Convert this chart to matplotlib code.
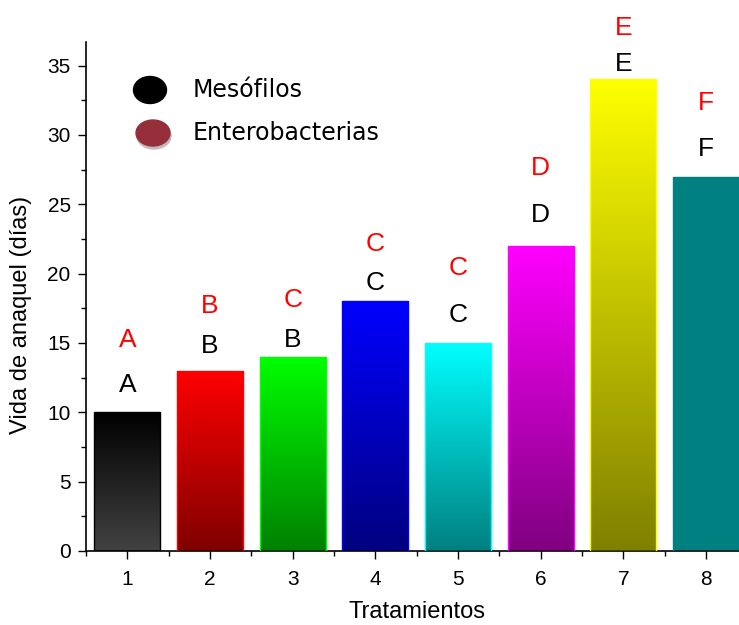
import numpy as np
import matplotlib.pyplot as plt
from matplotlib.colors import LinearSegmentedColormap
from matplotlib.patches import Ellipse

# datos
tratamientos = [1, 2, 3, 4, 5, 6, 7, 8]
vida = [10, 13, 14, 18, 15, 22, 34, 27]
letras_meso = ['A', 'B', 'B', 'C', 'C', 'D', 'E', 'F']
letras_entero = ['A', 'B', 'C', 'C', 'C', 'D', 'E', 'F']
pos_meso = [12.0, 14.8, 15.2, 19.3, 17.0, 24.2, 35.1, 29.0]
pos_entero = [15.2, 17.7, 18.1, 22.1, 20.4, 27.6, 37.7, 32.3]
color_arriba = ['#000000', '#ff0000', '#00ff00', '#0000ff', '#00ffff', '#ff00ff', '#ffff00', '#008080']
color_abajo = ['#424242', '#800000', '#008000', '#000080', '#008080', '#800080', '#808000', '#008080']
borde = ['#000000', '#ff0000', '#00ff00', '#0000ff', '#00ffff', '#ff00ff', '#ffff00', '#008080']

plt.rcParams['font.family'] = ['Liberation Sans', 'DejaVu Sans']

fig = plt.figure(figsize=(7.39, 6.25), dpi=100, facecolor='white')
ax = fig.add_axes([0.1164, 0.1184, 0.895, 0.8144])

barras = ax.bar(tratamientos, vida, width=0.8, color='none', edgecolor=borde, linewidth=1, zorder=3)

# degradado vertical dentro de cada barra
grad = np.linspace(0, 1, 256).reshape(-1, 1)
for b, c1, c2 in zip(barras, color_arriba, color_abajo):
    cmap = LinearSegmentedColormap.from_list('g', [c2, c1])
    x0, y0 = b.get_x(), b.get_y()
    im = ax.imshow(grad, cmap=cmap, origin='lower', aspect='auto',
                   extent=[x0, x0 + b.get_width(), y0, y0 + b.get_height()], zorder=2)
    im.set_clip_path(b)

for x, l1, l2, p1, p2 in zip(tratamientos, letras_meso, letras_entero, pos_meso, pos_entero):
    ax.text(x, p1, l1, ha='center', va='center', fontsize=19, color='black', clip_on=False)
    ax.text(x, p2, l2, ha='center', va='center', fontsize=19, color='red', clip_on=False)

ax.set_xlim(0.5, 8.5)
ax.set_ylim(0, 36.7)
ax.set_xticks(tratamientos)
ax.set_xticks(np.arange(0.5, 9, 1), minor=True)
ax.set_yticks(np.arange(0, 36, 5))
ax.set_yticks(np.arange(0, 36.7, 2.5), minor=True)
ax.tick_params(axis='both', which='major', labelsize=15, length=6, width=1, direction='out')
ax.tick_params(axis='x', which='major', pad=8)
ax.tick_params(axis='y', which='major', pad=5)
ax.tick_params(axis='both', which='minor', length=3.5, width=1, direction='out')
for s in ['top', 'right']:
    ax.spines[s].set_visible(False)
for s in ['left', 'bottom']:
    ax.spines[s].set_linewidth(1.2)

ax.set_xlabel('Tratamientos', fontsize=17)
ax.xaxis.set_label_coords(0.5, -0.098)
ax.set_ylabel('Vida de anaquel (días)', fontsize=17)
ax.yaxis.set_label_coords(-0.082, 0.464)

# leyenda dibujada a mano
ax_w, ax_h = 739, 625
fig.patches.append(Ellipse((150 / ax_w, 1 - 90 / ax_h), 33 / ax_w, 27 / ax_h,
                           transform=fig.transFigure, color='black', zorder=5))
fig.patches.append(Ellipse((154 / ax_w, 1 - 136 / ax_h), 34 / ax_w, 26 / ax_h,
                           transform=fig.transFigure, color='#c9b8ba', zorder=4))
fig.patches.append(Ellipse((153 / ax_w, 1 - 133 / ax_h), 34 / ax_w, 26 / ax_h,
                           transform=fig.transFigure, color='#952f3c', zorder=5))
fig.text(193 / ax_w, 1 - 90 / ax_h, 'Mesófilos', fontsize=17, va='center',
         family=['DejaVu Sans'])
fig.text(193 / ax_w, 1 - 133 / ax_h, 'Enterobacterias', fontsize=17, va='center',
         family=['DejaVu Sans'])

fig.savefig('out.png', dpi=100)
